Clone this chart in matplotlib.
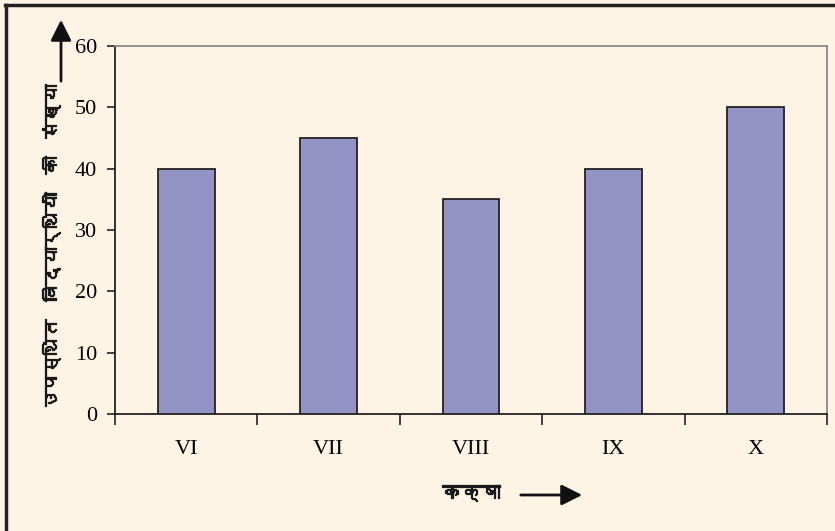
import matplotlib
matplotlib.use("Agg")
import matplotlib.pyplot as plt
import matplotlib.patheffects as pe
from matplotlib import font_manager
from matplotlib.ft2font import FT2Font
from matplotlib.lines import Line2D
import numpy as np

categories = ["VI", "VII", "VIII", "IX", "X"]
values = [40, 45, 35, 40, 50]
yticks = [0, 10, 20, 30, 40, 50, 60]
ylabel = "उपस्थित  विद्यार्थियों  की  संख्या"
xlabel = "कक्षा"

# find a font with Devanagari glyphs, if any
deva = None
for f in font_manager.fontManager.ttflist:
    try:
        if 0x0915 in FT2Font(f.fname).get_charmap():
            deva = f.name
            break
    except Exception:
        pass
deva_family = [deva, "DejaVu Sans"] if deva else ["DejaVu Sans"]

bg = "#FDF4E6"
bar_color = "#9393C5"

fig = plt.figure(figsize=(8.35, 5.31), dpi=100, facecolor=bg)
ax = fig.add_axes([115/835, 1-414/531, (827-115)/835, (414-46)/531])
ax.set_facecolor(bg)

x = np.arange(len(categories))
ax.bar(x, values, width=0.4, color=bar_color, edgecolor="#222222", linewidth=1.3, zorder=3)

ax.set_xlim(-0.5, len(categories) - 0.5)
ax.set_ylim(0, 60)
ax.set_yticks(yticks)
ax.set_yticklabels([str(v) for v in yticks], family="Liberation Serif", fontsize=16)
ax.tick_params(axis="y", direction="out", length=6, width=1.2, color="#222222", pad=7)

ax.set_xticks(np.arange(len(categories) + 1) - 0.5)
ax.set_xticklabels([])
ax.tick_params(axis="x", which="major", direction="out", length=8, width=1.2, color="#222222")
ax.set_xticks(x, minor=True)
ax.set_xticklabels(categories, minor=True, family="Liberation Serif", fontsize=16)
ax.tick_params(axis="x", which="minor", length=0, pad=19)

for s in ["left", "bottom"]:
    ax.spines[s].set_color("#222222")
    ax.spines[s].set_linewidth(1.3)
for s in ["top", "right"]:
    ax.spines[s].set_color("#8a8a8a")
    ax.spines[s].set_linewidth(1.3)

heavy = [pe.withStroke(linewidth=0.9, foreground="#1a1a1a")]

# y label with arrow
fig.text(50/835, 1-247/531, ylabel, rotation=90, ha="center", va="center",
         family=deva_family, fontsize=13, color="#1a1a1a", weight="bold",
         path_effects=heavy)
fig.patches.append(matplotlib.patches.FancyArrowPatch(
    (61/835, 1-84/531), (61/835, 1-17/531), transform=fig.transFigure,
    arrowstyle="-|>,head_length=0.7,head_width=0.35", mutation_scale=18,
    color="#111111", linewidth=2))

# x label with arrow
fig.text(471/835, 1-493/531, xlabel, ha="center", va="center",
         family=deva_family, fontsize=14, color="#1a1a1a", weight="bold",
         path_effects=heavy)
fig.patches.append(matplotlib.patches.FancyArrowPatch(
    (518/835, 1-495/531), (585/835, 1-495/531), transform=fig.transFigure,
    arrowstyle="-|>,head_length=0.7,head_width=0.35", mutation_scale=18,
    color="#111111", linewidth=2))

# outer border (top and left visible)
fig.lines.append(Line2D([5/835, 1.0], [1-5/531, 1-5/531], transform=fig.transFigure,
                        color="#222222", linewidth=2.5))
fig.lines.append(Line2D([6/835, 6/835], [0, 1-5/531], transform=fig.transFigure,
                        color="#222222", linewidth=2.5))

fig.savefig("out.png", dpi=100, facecolor=bg)
